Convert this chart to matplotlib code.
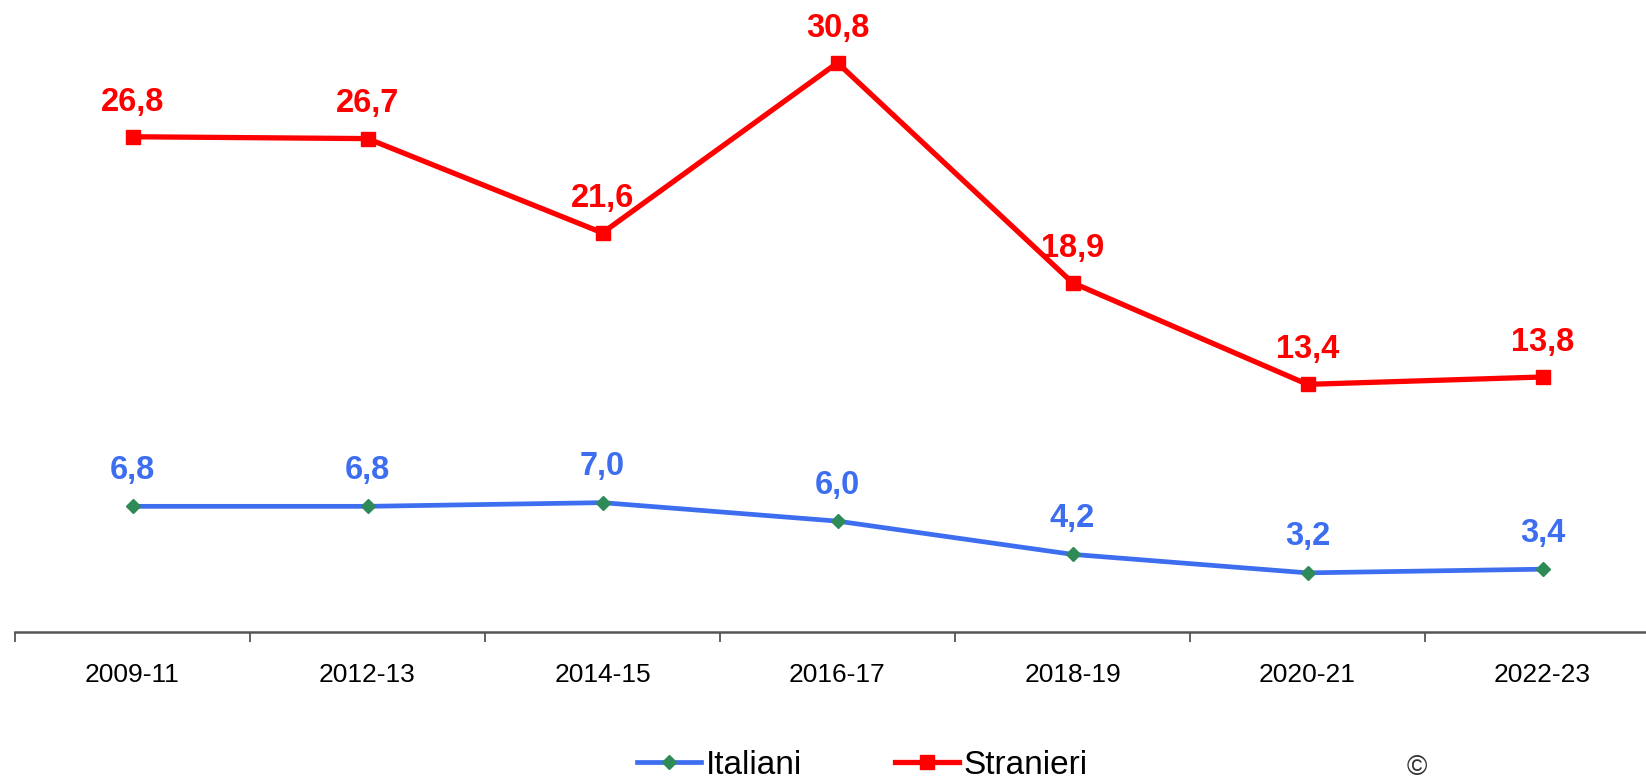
import matplotlib
matplotlib.use("Agg")
import matplotlib.pyplot as plt
import numpy as np

# dati
periodi = ["2009-11", "2012-13", "2014-15", "2016-17", "2018-19", "2020-21", "2022-23"]
italiani = [6.8, 6.8, 7.0, 6.0, 4.2, 3.2, 3.4]
stranieri = [26.8, 26.7, 21.6, 30.8, 18.9, 13.4, 13.8]

plt.rcParams["font.family"] = ["Liberation Sans", "DejaVu Sans"]

BLU = "#3D6EF0"
ROSSO = "#FF0000"
VERDE = "#2E8B57"

fig = plt.figure(figsize=(16.46, 7.83), dpi=100)
ax = fig.add_axes([15 / 1646, 1 - 632 / 783, 1645 / 1646, 632 / 783])

x = np.arange(len(periodi))
ax.plot(x, italiani, color=BLU, lw=3.4, marker="D", ms=7,
        mfc=VERDE, mec=VERDE, label="Italiani", zorder=3)
ax.plot(x, stranieri, color=ROSSO, lw=3.8, marker="s", ms=10,
        mfc=ROSSO, mec=ROSSO, label="Stranieri", zorder=3)

for xi, v in zip(x, italiani):
    ax.annotate(f"{v:.1f}".replace(".", ","), (xi, v), xytext=(0, 26),
                textcoords="offset points", ha="center", va="center",
                fontsize=23.5, fontweight="bold", color=BLU)
for xi, v in zip(x, stranieri):
    ax.annotate(f"{v:.1f}".replace(".", ","), (xi, v), xytext=(0, 25),
                textcoords="offset points", ha="center", va="center",
                fontsize=23.5, fontweight="bold", color=ROSSO)

ax.set_xlim(-0.5, len(periodi) - 0.5)
ax.set_ylim(0, 34.2)

ax.set_xticks(x)
ax.set_xticklabels(periodi, fontsize=19)
ax.set_xticks(np.arange(-0.5, len(periodi)), minor=True)
ax.tick_params(axis="x", which="major", length=0, pad=22)
ax.tick_params(axis="x", which="minor", length=7, width=1.3, color="#555555", direction="out")
ax.set_yticks([])

for s in ["top", "right", "left"]:
    ax.spines[s].set_visible(False)
ax.spines["bottom"].set_color("#555555")
ax.spines["bottom"].set_linewidth(1.8)

fig.legend(loc="center", bbox_to_anchor=(0.524, 1 - 765 / 783), ncol=2,
           frameon=False, fontsize=24, handlelength=1.9, handletextpad=0.15,
           columnspacing=2.8, borderaxespad=0, borderpad=0)

# simbolo in basso a destra
fig.text(1417 / 1646, 2 / 783, "\u00a9", fontsize=20, ha="center",
         va="bottom", color="#333333")

fig.savefig("out.png", dpi=100)
